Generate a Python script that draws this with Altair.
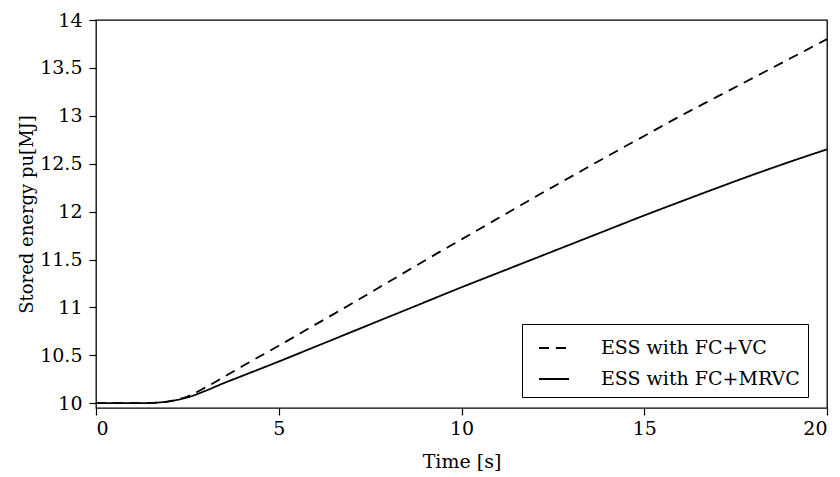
import altair as alt
import pandas as pd

# Stored energy of the ESS over time for the two control strategies
time_s = [0, 1, 1.5, 2, 2.5, 3, 3.5, 4, 5, 6, 7, 8, 9, 10,
          11, 12, 13, 14, 15, 16, 17, 18, 19, 20]
energy_fc_vc = [10.0, 10.0, 10.003, 10.02, 10.07, 10.165, 10.275, 10.385, 10.6, 10.82,
                11.04, 11.265, 11.49, 11.71, 11.93, 12.15, 12.365, 12.58, 12.79, 13.0,
                13.2, 13.4, 13.6, 13.8]
energy_fc_mrvc = [10.0, 10.0, 10.003, 10.02, 10.06, 10.13, 10.21, 10.285, 10.435, 10.59,
                  10.745, 10.9, 11.055, 11.21, 11.36, 11.51, 11.66, 11.81, 11.96, 12.105,
                  12.248, 12.388, 12.522, 12.65]
series_names = ["ESS with FC+VC", "ESS with FC+MRVC"]
x_ticks = [0, 5, 10, 15, 20]
y_ticks = [10, 10.5, 11, 11.5, 12, 12.5, 13, 13.5, 14]

df = pd.concat([
    pd.DataFrame({"t": time_s, "E": energy_fc_vc, "series": series_names[0]}),
    pd.DataFrame({"t": time_s, "E": energy_fc_mrvc, "series": series_names[1]}),
])

FONT = "DejaVu Serif"
FS = 19

chart = (
    alt.Chart(df)
    .mark_line(color="black", strokeWidth=1.8, interpolate="monotone", clip=True)
    .encode(
        x=alt.X("t:Q", scale=alt.Scale(domain=[0, 20], nice=False),
                axis=alt.Axis(values=x_ticks, title="Time [s]", titleY=59,
                              titleBaseline="alphabetic", labelPadding=4)),
        y=alt.Y("E:Q", scale=alt.Scale(domain=[9.95, 14], nice=False, zero=False),
                axis=alt.Axis(values=y_ticks, format="~g", title="Stored energy pu[MJ]",
                              titleX=-64, titleY=194, titleAngle=270, titleAlign="center",
                              titleBaseline="alphabetic", titleFontSize=18,
                              labelPadding=7)),
        strokeDash=alt.StrokeDash(
            "series:N",
            scale=alt.Scale(domain=series_names, range=[[10, 7], [1, 0]]),
            legend=alt.Legend(title=None),
        ),
        detail="series:N",
    )
    .properties(
        width=731,
        height=388,
        autosize=alt.AutoSizeParams(type="none"),
        padding={"left": 96, "top": 20, "right": 13, "bottom": 69},
    )
    .configure_view(stroke="black", strokeWidth=1.3)
    .configure_axis(
        grid=False, domain=False, tickColor="black", tickSize=7, tickWidth=1.2,
        labelFont=FONT, labelFontSize=FS, labelColor="black",
        titleFont=FONT, titleFontSize=FS, titleColor="black", titleFontWeight="normal",
    )
    .configure_legend(
        orient="none", legendX=426, legendY=304,
        strokeColor="black", fillColor="white", padding=8, cornerRadius=0,
        symbolType="stroke", symbolSize=900, symbolStrokeWidth=1.8,
        symbolStrokeColor="black", symbolOffset=8,
        labelFont=FONT, labelFontSize=FS, labelColor="black", labelOffset=31,
        labelLimit=0, rowPadding=5,
    )
)

chart.save("out.html", embed_options={"renderer": "svg", "actions": False})
